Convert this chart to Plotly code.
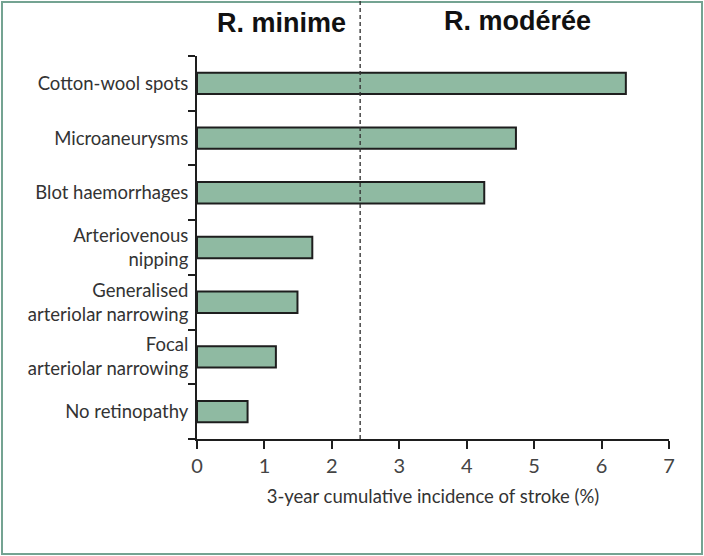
import plotly.graph_objects as go

categories = [
    "No retinopathy",
    "Focal<br>arteriolar narrowing",
    "Generalised<br>arteriolar narrowing",
    "Arteriovenous<br>nipping",
    "Blot haemorrhages",
    "Microaneurysms",
    "Cotton-wool spots",
]
incidence = [0.75, 1.17, 1.49, 1.71, 4.26, 4.73, 6.36]
x_ticks = [0, 1, 2, 3, 4, 5, 6, 7]
threshold = 2.42
region_labels = ["R. minime", "R. modérée"]

W, H = 704, 556
L, R, T, B = 197, 35, 56, 117
pw, ph = W - L - R, H - T - B

def px_x(p):
    return (p - L) / pw

def px_y(p):
    return (H - B - p) / ph

fig = go.Figure(go.Bar(
    y=categories, x=incidence, orientation="h", width=0.39,
    marker=dict(color="#8fbaa2", line=dict(color="#1e1e1e", width=2)),
    hoverinfo="skip",
))

fig.add_shape(type="line", xref="x", yref="paper", x0=threshold, x1=threshold,
              y0=0, y1=px_y(0), line=dict(color="rgba(50,50,50,0.85)", width=1.6, dash="4px,3px"))
fig.add_shape(type="rect", xref="paper", yref="paper",
              x0=px_x(2), x1=px_x(702), y0=px_y(554), y1=px_y(2),
              line=dict(color="#74a392", width=2), layer="below")

fig.add_annotation(text="<b>" + region_labels[0] + "</b>", xref="paper", yref="paper",
                   x=px_x(348), y=px_y(23), xanchor="right", yanchor="middle", showarrow=False,
                   font=dict(family="Liberation Sans", size=27, color="#111"))
fig.add_annotation(text="<b>" + region_labels[1] + "</b>", xref="paper", yref="paper",
                   x=px_x(517), y=px_y(21), xanchor="center", yanchor="middle", showarrow=False,
                   font=dict(family="Liberation Sans", size=27, color="#111"))

fig.update_layout(
    width=W, height=H, margin=dict(l=L, r=R, t=T, b=B),
    paper_bgcolor="white", plot_bgcolor="white", showlegend=False,
    font=dict(family="Lato", size=18.5, color="#333"),
    xaxis=dict(range=[0, 7], tickvals=x_ticks, ticks="outside", ticklen=8, tickwidth=2,
               tickcolor="#1e1e1e", showline=True, linecolor="#1e1e1e", linewidth=2,
               showgrid=False, zeroline=False, tickfont=dict(size=20, color="#444"),
               title=dict(text="3-year cumulative incidence of stroke (%)", standoff=14,
                          font=dict(size=18.5, color="#333"))),
    yaxis=dict(range=[-0.5, 6.5], ticks="outside", tickson="boundaries", ticklen=7, tickwidth=2,
               tickcolor="#1e1e1e", showline=True, linecolor="#1e1e1e", linewidth=2,
               showgrid=False, zeroline=False, ticklabelstandoff=3,
               tickfont=dict(size=18.5, color="#333")),
)

fig.write_html("out.html", config={"displayModeBar": False},
               post_script="document.body.style.margin='0';")
